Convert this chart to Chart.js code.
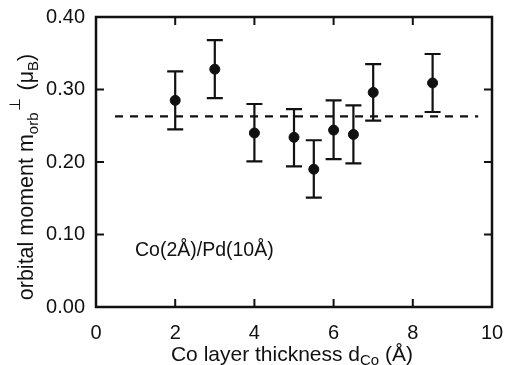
<!DOCTYPE html>
<html>
<head>
<meta charset="utf-8">
<script src="https://cdn.jsdelivr.net/npm/chart.js"></script>
<style>
  html, body { margin: 0; padding: 0; background: #fff; }
  #wrap { width: 505px; height: 365px; }
</style>
</head>
<body>
<div id="wrap"><canvas id="chart" width="505" height="365"></canvas></div>
<script>
// Co layer thickness (Å)
const thickness = [2, 3, 4, 5, 5.5, 6, 6.5, 7, 8.5];
// orbital moment m_orb (μB)
const moment   = [0.285, 0.328, 0.240, 0.234, 0.190, 0.244, 0.238, 0.296, 0.309];
const errHigh  = [0.325, 0.368, 0.280, 0.273, 0.230, 0.285, 0.278, 0.335, 0.349];
const errLow   = [0.245, 0.288, 0.201, 0.194, 0.151, 0.204, 0.198, 0.257, 0.269];
// reference level for Co(2Å)/Pd(10Å)
const refLevel = 0.263;
const refRange = [0.48, 9.65];
const xTicks = [0, 2, 4, 6, 8, 10];
const yTicks = [0, 0.1, 0.2, 0.3, 0.4];

const FONT = '"Liberation Sans", Arial, Helvetica, sans-serif';
const INK = '#111';

// draws text made of pieces with different sizes / baselines
function drawRich(ctx, parts, x, y) {
    let total = 0;
    parts.forEach(p => {
        ctx.font = p.size + 'px ' + FONT;
        p.w = ctx.measureText(p.t).width + (p.gap || 0);
        total += p.w;
    });
    let cx = x - total / 2;
    parts.forEach(p => {
        ctx.font = p.size + 'px ' + FONT;
        ctx.fillText(p.t, cx + (p.gap || 0), y + (p.dy || 0));
        cx += p.w;
    });
}

const framePlugin = {
    id: 'frame',
    afterDatasetsDraw(chart) {
        const ctx = chart.ctx;
        const a = chart.chartArea;
        const xs = chart.scales.x, ys = chart.scales.y;
        ctx.save();
        ctx.strokeStyle = INK;
        ctx.fillStyle = INK;

        // error bars
        ctx.lineWidth = 2.2;
        thickness.forEach((t, i) => {
            const px = xs.getPixelForValue(t);
            const top = ys.getPixelForValue(errHigh[i]);
            const bot = ys.getPixelForValue(errLow[i]);
            ctx.beginPath();
            ctx.moveTo(px, top); ctx.lineTo(px, bot);
            ctx.moveTo(px - 8, top); ctx.lineTo(px + 8, top);
            ctx.moveTo(px - 8, bot); ctx.lineTo(px + 8, bot);
            ctx.stroke();
        });

        // frame
        ctx.lineWidth = 2.5;
        ctx.strokeRect(a.left, a.top, a.right - a.left, a.bottom - a.top);

        // inward ticks on all sides
        ctx.lineWidth = 2;
        const len = 8;
        ctx.beginPath();
        xTicks.forEach(v => {
            const px = xs.getPixelForValue(v);
            ctx.moveTo(px, a.bottom); ctx.lineTo(px, a.bottom - len);
            ctx.moveTo(px, a.top); ctx.lineTo(px, a.top + len);
        });
        yTicks.forEach(v => {
            const py = ys.getPixelForValue(v);
            ctx.moveTo(a.left, py); ctx.lineTo(a.left + len, py);
            ctx.moveTo(a.right, py); ctx.lineTo(a.right - len, py);
        });
        ctx.stroke();

        // sample label
        ctx.textBaseline = 'middle';
        ctx.textAlign = 'left';
        ctx.font = '19.5px ' + FONT;
        ctx.fillText('Co(2Å)/Pd(10Å)', 135, 251);

        // x axis title
        ctx.textBaseline = 'alphabetic';
        drawRich(ctx, [
            { t: 'Co layer thickness d', size: 21 },
            { t: 'Co', size: 15, dy: 4 },
            { t: ' (Å)', size: 21 }
        ], 292, 361);

        // y axis title
        ctx.translate(33, 177);
        ctx.rotate(-Math.PI / 2);
        drawRich(ctx, [
            { t: 'orbital moment m', size: 21.5 },
            { t: 'orb', size: 15, dy: 5 },
            { t: '\u22A5', size: 15, dy: -13, gap: 1 },
            { t: ' (\u03BC', size: 21.5, gap: 2 },
            { t: 'B', size: 15, dy: 5 },
            { t: ')', size: 21.5 }
        ], 0, 0);
        ctx.restore();
    }
};

new Chart(document.getElementById('chart').getContext('2d'), {
    type: 'scatter',
    data: {
        datasets: [{
            label: 'reference',
            type: 'line',
            data: refRange.map(x => ({ x: x, y: refLevel })),
            borderColor: INK,
            borderWidth: 2.2,
            borderDash: [8, 7],
            pointRadius: 0,
            fill: false
        }, {
            label: 'm_orb',
            data: thickness.map((t, i) => ({ x: t, y: moment[i] })),
            backgroundColor: INK,
            borderColor: INK,
            pointRadius: 5,
            pointHoverRadius: 5
        }]
    },
    options: {
        responsive: false,
        animation: false,
        events: [],
        layout: { padding: { top: 17, right: 13, left: 0, bottom: 0 } },
        plugins: {
            legend: { display: false },
            tooltip: { enabled: false }
        },
        scales: {
            x: {
                type: 'linear',
                min: 0,
                max: 10,
                afterFit: s => { s.height = 58; s.paddingLeft = 0; s.paddingRight = 0; },
                afterBuildTicks: s => { s.ticks = xTicks.map(v => ({ value: v })); },
                grid: { display: false, drawTicks: false },
                border: { display: false },
                ticks: {
                    color: INK,
                    padding: 14,
                    font: { family: FONT, size: 20 },
                    maxRotation: 0
                }
            },
            y: {
                min: 0,
                max: 0.4,
                afterFit: s => { s.width = 96; s.paddingTop = 0; s.paddingBottom = 0; },
                afterBuildTicks: s => { s.ticks = yTicks.map(v => ({ value: v })); },
                grid: { display: false, drawTicks: false },
                border: { display: false },
                ticks: {
                    color: INK,
                    padding: 11,
                    font: { family: FONT, size: 20 },
                    callback: v => v.toFixed(2)
                }
            }
        }
    },
    plugins: [framePlugin]
});
</script>
</body>
</html>
